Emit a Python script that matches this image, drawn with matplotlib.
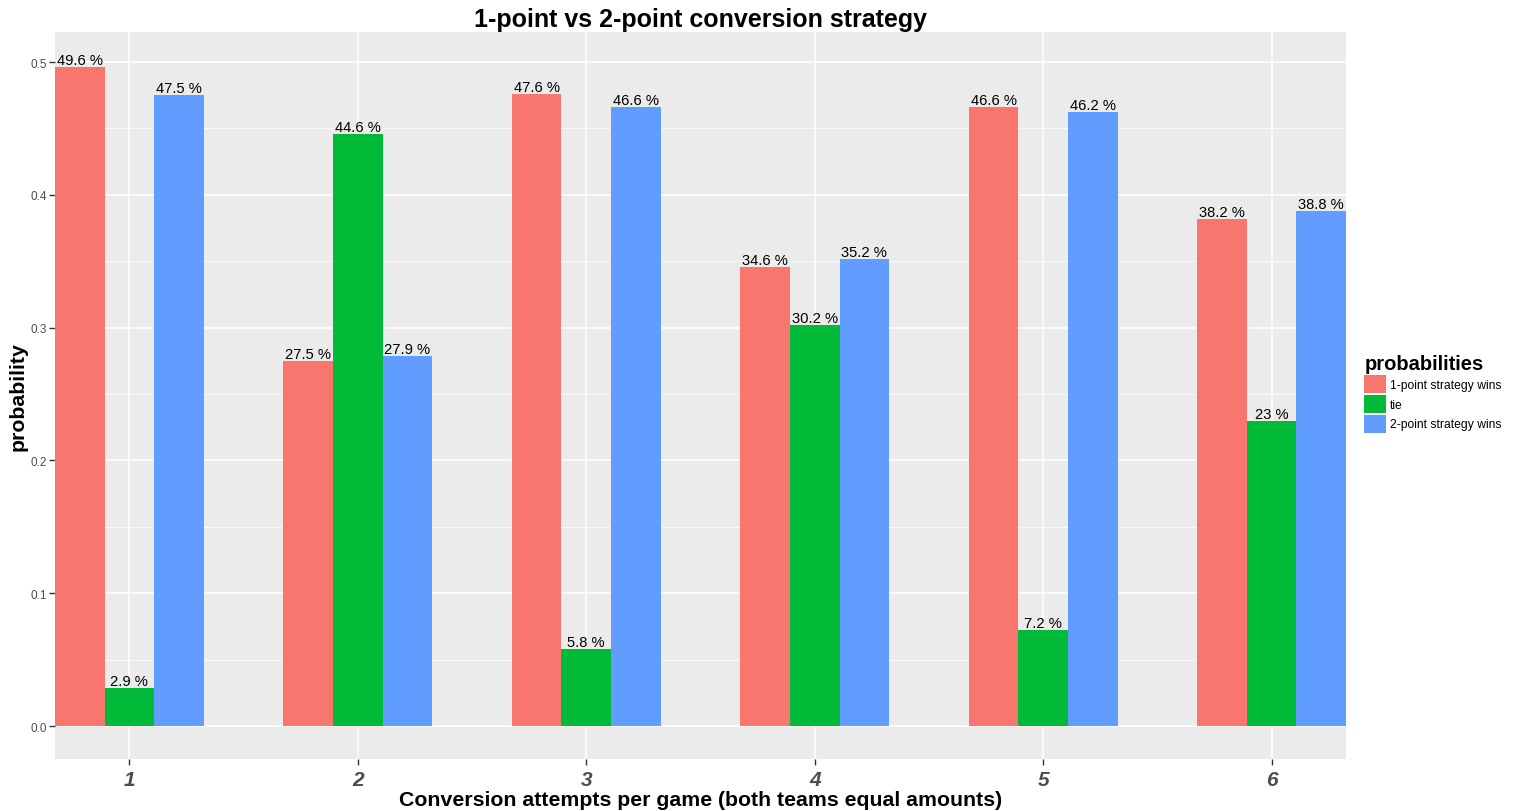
import numpy as np
import matplotlib.pyplot as plt
from matplotlib.patches import Patch

plt.rcParams["font.family"] = ["Liberation Sans", "DejaVu Sans"]

# values
attempts = [1, 2, 3, 4, 5, 6]
one_point_wins = [49.6, 27.5, 47.6, 34.6, 46.6, 38.2]
tie = [2.9, 44.6, 5.8, 30.2, 7.2, 23.0]
two_point_wins = [47.5, 27.9, 46.6, 35.2, 46.2, 38.8]
series_names = ["1-point strategy wins", "tie", "2-point strategy wins"]
colors = ["#F8766D", "#00BA38", "#619CFF"]

fig = plt.figure(figsize=(15.14, 8.12), dpi=100)
ax = fig.add_axes([55 / 1514, 1 - 760 / 812, (1346 - 55) / 1514, (760 - 33) / 812])
ax.set_facecolor("#EBEBEB")

x = np.array(attempts, dtype=float)
w = 0.217
all_series = [one_point_wins, tie, two_point_wins]
for i, (vals, col) in enumerate(zip(all_series, colors)):
    probs = np.array(vals) / 100.0
    pos = x + (i - 1) * w
    ax.bar(pos, probs, width=w, color=col, zorder=3, linewidth=0)
    for px, p, v in zip(pos, probs, vals):
        ax.text(px, p, f"{v:g} %", ha="center", va="bottom", fontsize=10.6,
                color="black", zorder=4)

ax.set_xlim(1 - 1.5 * w, 6 + 1.5 * w)
ax.set_ylim(-0.0248, 0.5226)

ax.set_yticks(np.arange(0, 0.51, 0.1))
ax.set_yticklabels([f"{t:.1f}" for t in np.arange(0, 0.51, 0.1)])
ax.set_yticks(np.arange(0.05, 0.5, 0.1), minor=True)
ax.set_xticks(attempts)
ax.set_xticklabels([str(a) for a in attempts])

ax.grid(which="major", color="white", linewidth=1.1, zorder=0)
ax.grid(which="minor", axis="y", color="white", linewidth=0.5, zorder=0)
for s in ax.spines.values():
    s.set_visible(False)

ax.tick_params(axis="y", which="major", labelsize=8.5, labelcolor="#4D4D4D",
               color="#333333", length=4, width=1, pad=2)
ax.tick_params(axis="y", which="minor", length=0)
ax.tick_params(axis="x", labelsize=15, labelcolor="#4D4D4D", color="#333333",
               length=4, width=1, pad=4)
for lab in ax.get_xticklabels():
    lab.set_fontweight("bold")
    lab.set_fontstyle("italic")

ax.set_title("1-point vs 2-point conversion strategy", fontsize=18,
             fontweight="bold", pad=4)
ax.set_xlabel("Conversion attempts per game (both teams equal amounts)",
              fontsize=15.3, fontweight="bold", labelpad=1)
ax.set_ylabel("probability", fontsize=15.3, fontweight="bold", labelpad=2)

handles = [Patch(facecolor=c, edgecolor="none", label=n)
           for c, n in zip(colors, series_names)]
leg = fig.legend(handles=handles, title="probabilities", loc="upper left",
                 bbox_to_anchor=(1356 / 1514, 1 - 347 / 812), frameon=False,
                 fontsize=8.7, handlelength=1.75, handleheight=1.9,
                 handletextpad=0.35, labelspacing=0.15, borderaxespad=0.3)
leg.get_title().set_fontweight("bold")
leg.get_title().set_fontsize(14.5)
leg._legend_box.align = "left"

fig.savefig("out.png", dpi=100)
